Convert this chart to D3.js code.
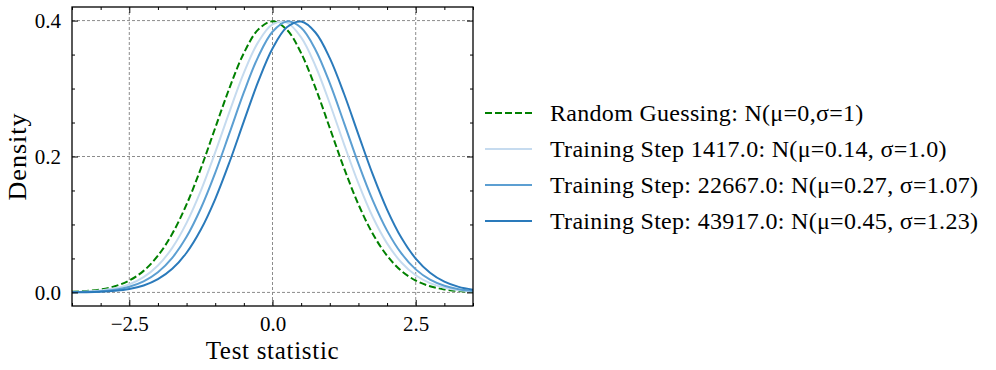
<!DOCTYPE html>
<html>
<head>
<meta charset="utf-8">
<script src="https://cdn.jsdelivr.net/npm/d3@7"></script>
<style>
  body { margin: 0; background: #fff; }
  svg text { font-family: "Liberation Serif", "Times New Roman", serif; fill: #000; }
</style>
</head>
<body>
<div id="chart"></div>
<script>
// x grid the curves were read at
var xs = [-3.5, -3.25, -3.0, -2.75, -2.5, -2.25, -2.0, -1.75, -1.5, -1.25, -1.0, -0.75, -0.5, -0.25,
          0.0, 0.25, 0.5, 0.75, 1.0, 1.25, 1.5, 1.75, 2.0, 2.25, 2.5, 2.75, 3.0, 3.25, 3.5];

// density values, one array per curve
var randomGuess = [0.0009, 0.0020, 0.0044, 0.0091, 0.0175, 0.0317, 0.0540, 0.0863, 0.1295, 0.1826, 0.2420, 0.3011, 0.3521, 0.3867,
                   0.3989, 0.3867, 0.3521, 0.3011, 0.2420, 0.1826, 0.1295, 0.0863, 0.0540, 0.0317, 0.0175, 0.0091, 0.0044, 0.0020, 0.0009];
var step1417 = [0.0005, 0.0012, 0.0028, 0.0060, 0.0119, 0.0224, 0.0396, 0.0656, 0.1023, 0.1497, 0.2060, 0.2661, 0.3230, 0.3683,
                0.3945, 0.3970, 0.3752, 0.3332, 0.2780, 0.2179, 0.1604, 0.1109, 0.0721, 0.0440, 0.0252, 0.0136, 0.0069, 0.0033, 0.0015];
var step22667 = [0.0003, 0.0008, 0.0018, 0.0041, 0.0084, 0.0163, 0.0297, 0.0509, 0.0818, 0.1238, 0.1759, 0.2347, 0.2943, 0.3467,
                 0.3836, 0.3988, 0.3894, 0.3572, 0.3079, 0.2492, 0.1895, 0.1354, 0.0909, 0.0573, 0.0339, 0.0189, 0.0099, 0.0048, 0.0022];
var step43917 = [0.0002, 0.0004, 0.0010, 0.0023, 0.0050, 0.0101, 0.0194, 0.0347, 0.0584, 0.0925, 0.1374, 0.1919, 0.2517, 0.3101,
                 0.3589, 0.3902, 0.3986, 0.3825, 0.3448, 0.2920, 0.2323, 0.1736, 0.1219, 0.0804, 0.0498, 0.0290, 0.0158, 0.0081, 0.0039];

var seriesLabels = [
  "Random Guessing: N(\u03bc=0,\u03c3=1)",
  "Training Step 1417.0: N(\u03bc=0.14, \u03c3=1.0)",
  "Training Step: 22667.0: N(\u03bc=0.27, \u03c3=1.07)",
  "Training Step: 43917.0: N(\u03bc=0.45, \u03c3=1.23)"
];
var xTicks = [-2.5, 0.0, 2.5];
var yTicks = [0.0, 0.2, 0.4];

var series = [
  {values: randomGuess, color: "#008000", dash: "7,3"},
  {values: step1417, color: "#c6dbef", dash: null},
  {values: step22667, color: "#5c9fd2", dash: null},
  {values: step43917, color: "#2a7abb", dash: null}
];

var margin = {top: 7, left: 72},
    width = 401,
    height = 299;

var svg = d3.select("#chart").append("svg")
  .attr("width", 996)
  .attr("height", 370);

var g = svg.append("g")
  .attr("transform", "translate(" + margin.left + "," + margin.top + ")");

var x = d3.scaleLinear().domain([-3.5, 3.5]).range([0, width]);
var y = d3.scaleLinear().domain([-0.02, 0.42]).range([height, 0]);

// grid
g.selectAll(".gx").data(xTicks).enter().append("line")
  .attr("x1", d => x(d)).attr("x2", d => x(d))
  .attr("y1", 0).attr("y2", height)
  .attr("stroke", "#8c8c8c").attr("stroke-width", 1).attr("stroke-dasharray", "3,2");
g.selectAll(".gy").data(yTicks).enter().append("line")
  .attr("y1", d => y(d)).attr("y2", d => y(d))
  .attr("x1", 0).attr("x2", width)
  .attr("stroke", "#8c8c8c").attr("stroke-width", 1).attr("stroke-dasharray", "3,2");

g.append("clipPath").attr("id", "clip")
  .append("rect").attr("width", width).attr("height", height);

var line = d3.line()
  .x((d, i) => x(xs[i]))
  .y(d => y(d))
  .curve(d3.curveCatmullRom.alpha(0.5));

series.forEach(function(s) {
  g.append("path")
    .attr("clip-path", "url(#clip)")
    .attr("d", line(s.values))
    .attr("fill", "none")
    .attr("stroke", s.color)
    .attr("stroke-width", 2)
    .attr("stroke-dasharray", s.dash);
});

// axes, ticks pointing inward on all four sides
var minorX = d3.range(-3.5, 3.51, 0.5).filter(v => xTicks.indexOf(v) < 0);
var minorY = d3.range(0, 0.4001, 0.05).map(v => +v.toFixed(2)).filter(v => yTicks.indexOf(v) < 0);

function axis(gen, tr, major, minor, fmt) {
  var a = g.append("g").attr("transform", tr);
  a.call(gen.tickValues(major).tickSizeInner(-6).tickSizeOuter(0).tickPadding(10).tickFormat(fmt));
  var m = g.append("g").attr("transform", tr);
  m.call(gen.tickValues(minor).tickSizeInner(-3).tickSizeOuter(0).tickFormat(""));
  m.select(".domain").remove();
  a.select(".domain").remove();
  return a;
}
var fmt = d => d3.format(".1f")(d).replace("-", "\u2212");

var xb = axis(d3.axisBottom(x), "translate(0," + height + ")", xTicks, minorX, fmt);
axis(d3.axisTop(x), "translate(0,0)", xTicks, minorX, "");
var yl = axis(d3.axisLeft(y), "translate(0,0)", yTicks, minorY, fmt);
axis(d3.axisRight(y), "translate(" + width + ",0)", yTicks, minorY, "");

g.selectAll(".tick line").attr("stroke", "#000").attr("stroke-width", 1);
xb.selectAll("text").attr("font-size", "21px").attr("dy", "0.7em");
yl.selectAll("text").attr("font-size", "21px").attr("dx", "-1px");

g.append("rect")
  .attr("width", width).attr("height", height)
  .attr("fill", "none").attr("stroke", "#000").attr("stroke-width", 1.3);

// axis labels
svg.append("text")
  .attr("x", margin.left + x(0)).attr("y", 359)
  .attr("text-anchor", "middle").attr("font-size", "25px")
  .attr("letter-spacing", "0.7px")
  .text("Test statistic");
svg.append("text")
  .attr("transform", "translate(26," + (margin.top + y(0.2)) + ") rotate(-90)")
  .attr("text-anchor", "middle").attr("font-size", "26px")
  .attr("letter-spacing", "1px")
  .text("Density");

// legend
var legend = svg.append("g").attr("transform", "translate(485,113)");
series.forEach(function(s, i) {
  var row = legend.append("g").attr("transform", "translate(0," + (i * 36) + ")");
  row.append("line")
    .attr("x1", 0).attr("x2", 47).attr("y1", 0).attr("y2", 0)
    .attr("stroke", s.color).attr("stroke-width", 2)
    .attr("stroke-dasharray", s.dash);
  row.append("text")
    .attr("x", 65).attr("y", 0).attr("dy", "0.35em")
    .attr("font-size", "24px")
    .attr("letter-spacing", "0.3px")
    .text(seriesLabels[i]);
});
</script>
</body>
</html>
